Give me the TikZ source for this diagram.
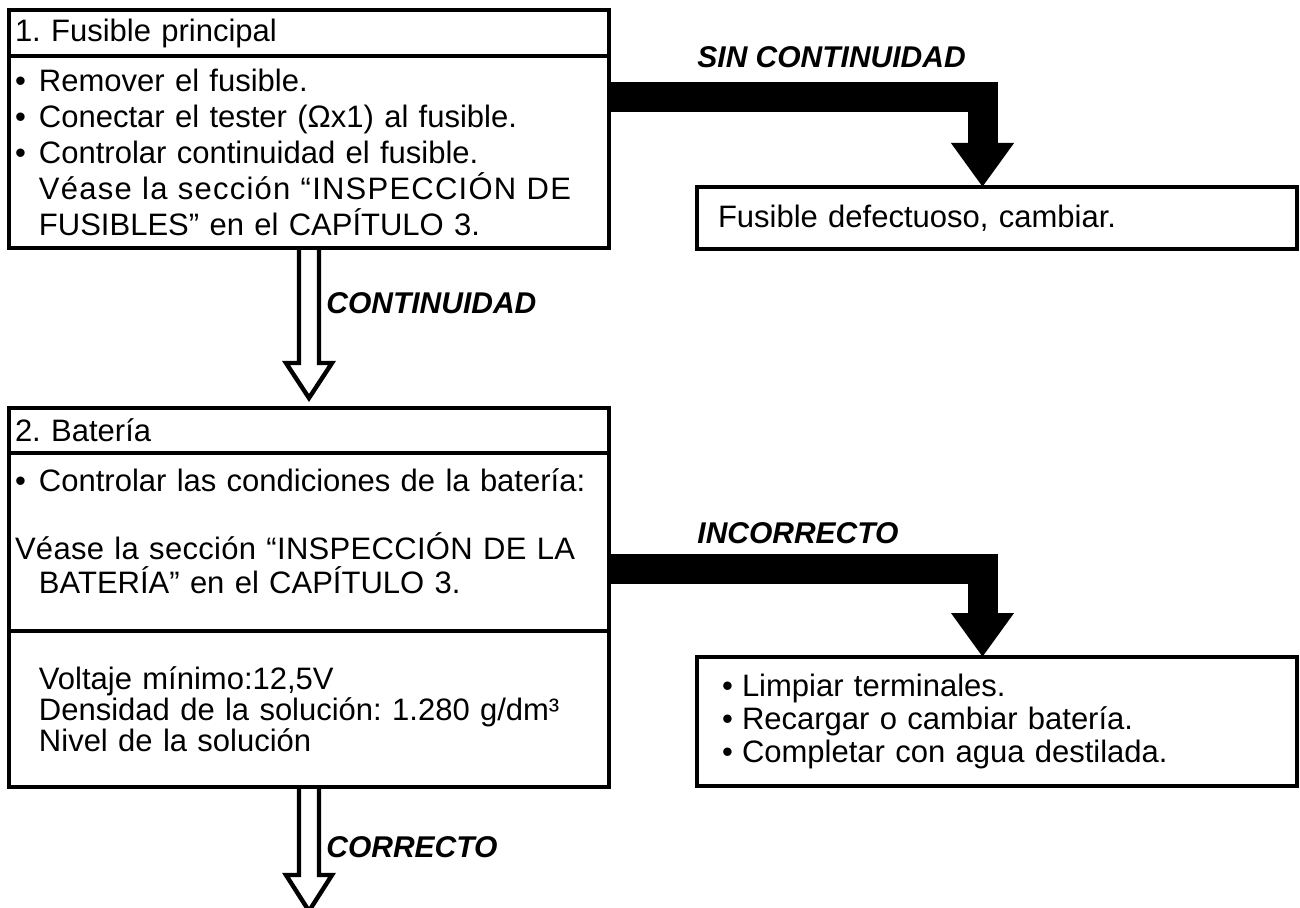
\documentclass[tikz,border=0pt]{standalone}
\usepackage{fontspec}
\setmainfont{Liberation Sans}
\usetikzlibrary{arrows.meta, calc}
\frenchspacing

\newcommand{\itm}{\makebox[12pt][l]{•}}
\newcommand{\itmb}{\makebox[10pt][l]{•}}

\begin{document}
\begin{tikzpicture}[
        x=0.5pt, y=-0.5pt,
        every node/.style={font=\fontsize{15.5}{17}\selectfont},
        boxw/.style={
            draw, rectangle, line width=1.6pt,
            anchor=north west, align=left,
            inner xsep=3pt, inner ysep=0pt, outer sep=0pt,
            text width=294pt
        },
        boxs/.style={boxw, inner xsep=10.5pt, text width=279pt},
        lbl/.style={anchor=west, inner sep=0pt, font=\fontsize{15}{17}\selectfont\bfseries\itshape},
        blk/.style={line width=15pt, line join=miter, -{Triangle[length=22pt,width=30pt]}},
        hollow/.style={line width=2.2pt, line join=miter}
    ]
        \useasboundingbox (0,0) rectangle (1300,908);

        % Step 1: main fuse
        \node[boxw, minimum height=23pt] (b1h) at (9,10) {1. Fusible principal};
        \node[boxw, minimum height=96pt, font=\fontsize{15.5}{18}\selectfont] (b1b) at (b1h.south west)
            {\itm Remover el fusible.\\
             \itm Conectar el tester (Ωx1) al fusible.\\
             \itm Controlar continuidad el fusible.\\
             \hspace*{12pt}\makebox[274pt][s]{\addfontfeature{LetterSpace=4}Véase la sección “INSPECCIÓN DE}\\
             \hspace*{12pt}FUSIBLES” en el CAPÍTULO 3.};
        \node[boxs, minimum height=31pt] (fusdef) at (697,187) {Fusible defectuoso, cambiar.};

        % Step 2: battery
        \node[boxw, minimum height=22.5pt] (b2h) at (9,408) {2. Batería};
        \node[boxw, minimum height=89pt] (b2s1) at (b2h.south west)
            {\itm Controlar las condiciones de la batería:\\[17pt]
             \makebox[284.5pt][s]{\addfontfeature{LetterSpace=1}Véase la sección “INSPECCIÓN DE LA}\\
             \hspace*{12pt}BATERÍA” en el CAPÍTULO 3.\\[-6pt]\mbox{}};
        \node[boxw, minimum height=78pt, font=\fontsize{15.5}{15.5}\selectfont] (b2s2) at (b2s1.south west)
            {\hspace*{12pt}Voltaje mínimo:12,5V\\
             \hspace*{12pt}Densidad de la solución: 1.280 g/dm³\\
             \hspace*{12pt}Nivel de la solución};
        \node[boxs, inner xsep=12.5pt, text width=275pt, minimum height=64.5pt,
              font=\fontsize{15.5}{16.5}\selectfont] (limp) at (697,657)
            {\itmb Limpiar terminales.\\
             \itmb Recargar o cambiar batería.\\
             \itmb Completar con agua destilada.};
        \coordinate (nxt) at (309,911);

        % Fault branches - solid black arrows
        \draw[blk] ([yshift=-20.5pt]b1b.north east) -| ([xshift=-7.25pt]fusdef.north);
        \draw[blk] ([yshift=-58pt]b2s1.north east) -| ([xshift=-7.25pt]limp.north);

        % OK branches - hollow arrows
        \draw[hollow] ($(b1b.south)+(-10,0)$) -- ++(0,115) -- ++(-13,0) -- ($(b2h.north)+(0,-10)$)
            -- ($(b1b.south)+(23,115)$) -- ++(-13,0) -- ++(0,-115);
        \draw[hollow] ($(b2s2.south)+(-10,0)$) -- ++(0,88) -- ++(-13,0) -- (nxt)
            -- ($(b2s2.south)+(23,88)$) -- ++(-13,0) -- ++(0,-88);

        % Labels
        \node[lbl] (sincont) at (697,57) {SIN CONTINUIDAD};
        \node[lbl] (cont) at (326,303) {CONTINUIDAD};
        \node[lbl] (incorr) at (697,533) {INCORRECTO};
        \node[lbl] (corr) at (326,847) {CORRECTO};
    \end{tikzpicture}
\end{document}
